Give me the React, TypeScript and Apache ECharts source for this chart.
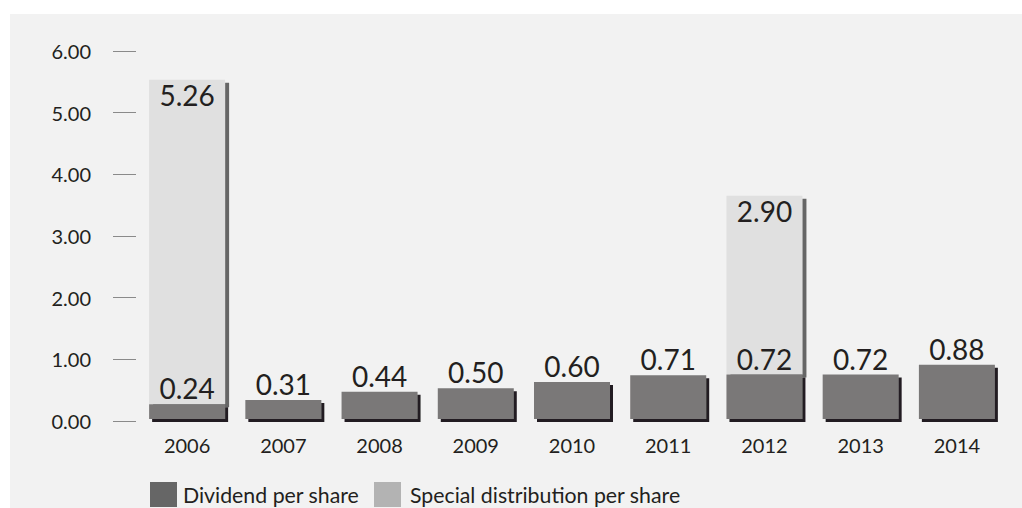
import React, { useEffect, useRef } from "react";
import * as echarts from "echarts";

const years = ["2006", "2007", "2008", "2009", "2010", "2011", "2012", "2013", "2014"];
const dividendPerShare = [0.24, 0.31, 0.44, 0.5, 0.6, 0.71, 0.72, 0.72, 0.88];
const specialDistribution = [5.26, null, null, null, null, null, 2.9, null, null];
const yTicks = { min: 0, max: 6, interval: 1 };
const seriesNames = ["Dividend per share", "Special distribution per share"];

const FONT = "Lato, 'Noto Sans', sans-serif";
const TEXT = "#231f20";
// bars sit ~2px above the tick baseline in the reference
const BAR_LIFT = 0.0324;

const noShadow = { shadowColor: "rgba(0,0,0,0)", shadowBlur: 0, shadowOffsetX: 0, shadowOffsetY: 0 };

export default function App() {
  const ref = useRef<HTMLDivElement>(null);
  useEffect(() => {
    if (!ref.current) return;
    const chart = echarts.init(ref.current, undefined, { renderer: "svg" });
    const legendBase = {
      top: 468,
      padding: 0,
      itemWidth: 27,
      itemHeight: 25,
      selectedMode: false,
    };
    chart.setOption({
      animation: false,
      backgroundColor: "#f2f2f2",
      textStyle: { fontFamily: FONT },
      grid: { left: 129, right: 17, top: 37, bottom: 87 },
      legend: [
        {
          ...legendBase,
          left: 140,
          textStyle: { fontFamily: FONT, fontSize: 21.3, color: TEXT, padding: [0, 0, 0, 1] },
          data: [{ name: seriesNames[0], icon: "rect", itemStyle: { color: "#666666", ...noShadow } }],
        },
        {
          ...legendBase,
          left: 364,
          textStyle: { fontFamily: FONT, fontSize: 21.3, color: TEXT, padding: [0, 0, 0, 4] },
          data: [{ name: seriesNames[1], icon: "rect", itemStyle: { color: "#b3b3b3", ...noShadow } }],
        },
      ],
      xAxis: {
        type: "category",
        data: years,
        axisLine: { show: false },
        axisTick: { show: false },
        axisLabel: { fontFamily: FONT, fontSize: 20, color: TEXT, margin: 14 },
      },
      yAxis: [
        {
          type: "value",
          min: yTicks.min,
          max: yTicks.max,
          interval: yTicks.interval,
          offset: 3,
          axisLine: { show: false },
          axisTick: { show: true, length: 23, lineStyle: { color: "#8a8a8a", width: 1 } },
          splitLine: { show: false },
          axisLabel: {
            fontFamily: FONT,
            fontSize: 20,
            color: TEXT,
            margin: 45,
            formatter: (v: number) => v.toFixed(2),
          },
        },
        {
          type: "value",
          show: false,
          min: yTicks.min - BAR_LIFT,
          max: yTicks.max - BAR_LIFT,
          splitLine: { show: false },
        },
      ],
      series: [
        {
          name: seriesNames[0],
          type: "bar",
          stack: "total",
          yAxisIndex: 1,
          barWidth: 76,
          data: dividendPerShare,
          z: 3,
          itemStyle: {
            color: "#7a7878",
            shadowColor: "#231f20",
            shadowBlur: 0,
            shadowOffsetX: 3,
            shadowOffsetY: 3,
          },
          label: {
            show: true,
            position: "top",
            distance: 2,
            fontFamily: FONT,
            fontSize: 28,
            color: TEXT,
            formatter: (p: any) => Number(p.value).toFixed(2),
          },
        },
        {
          name: seriesNames[1],
          type: "bar",
          stack: "total",
          yAxisIndex: 1,
          barWidth: 76,
          data: specialDistribution,
          z: 2,
          itemStyle: {
            color: "#e0e0e0",
            shadowColor: "#666666",
            shadowBlur: 0,
            shadowOffsetX: 4,
            shadowOffsetY: 3,
          },
          label: {
            show: true,
            position: "insideTop",
            distance: 1,
            fontFamily: FONT,
            fontSize: 28,
            color: TEXT,
            formatter: (p: any) => (p.value == null ? "" : Number(p.value).toFixed(2)),
          },
        },
      ],
    });
    return () => chart.dispose();
  }, []);
  return (
    <div style={{ position: "fixed", left: 0, top: 0, width: 1022, height: 508, background: "#ffffff" }}>
      <div ref={ref} style={{ position: "absolute", left: 10, top: 14, width: 1012, height: 494 }} />
    </div>
  );
}
